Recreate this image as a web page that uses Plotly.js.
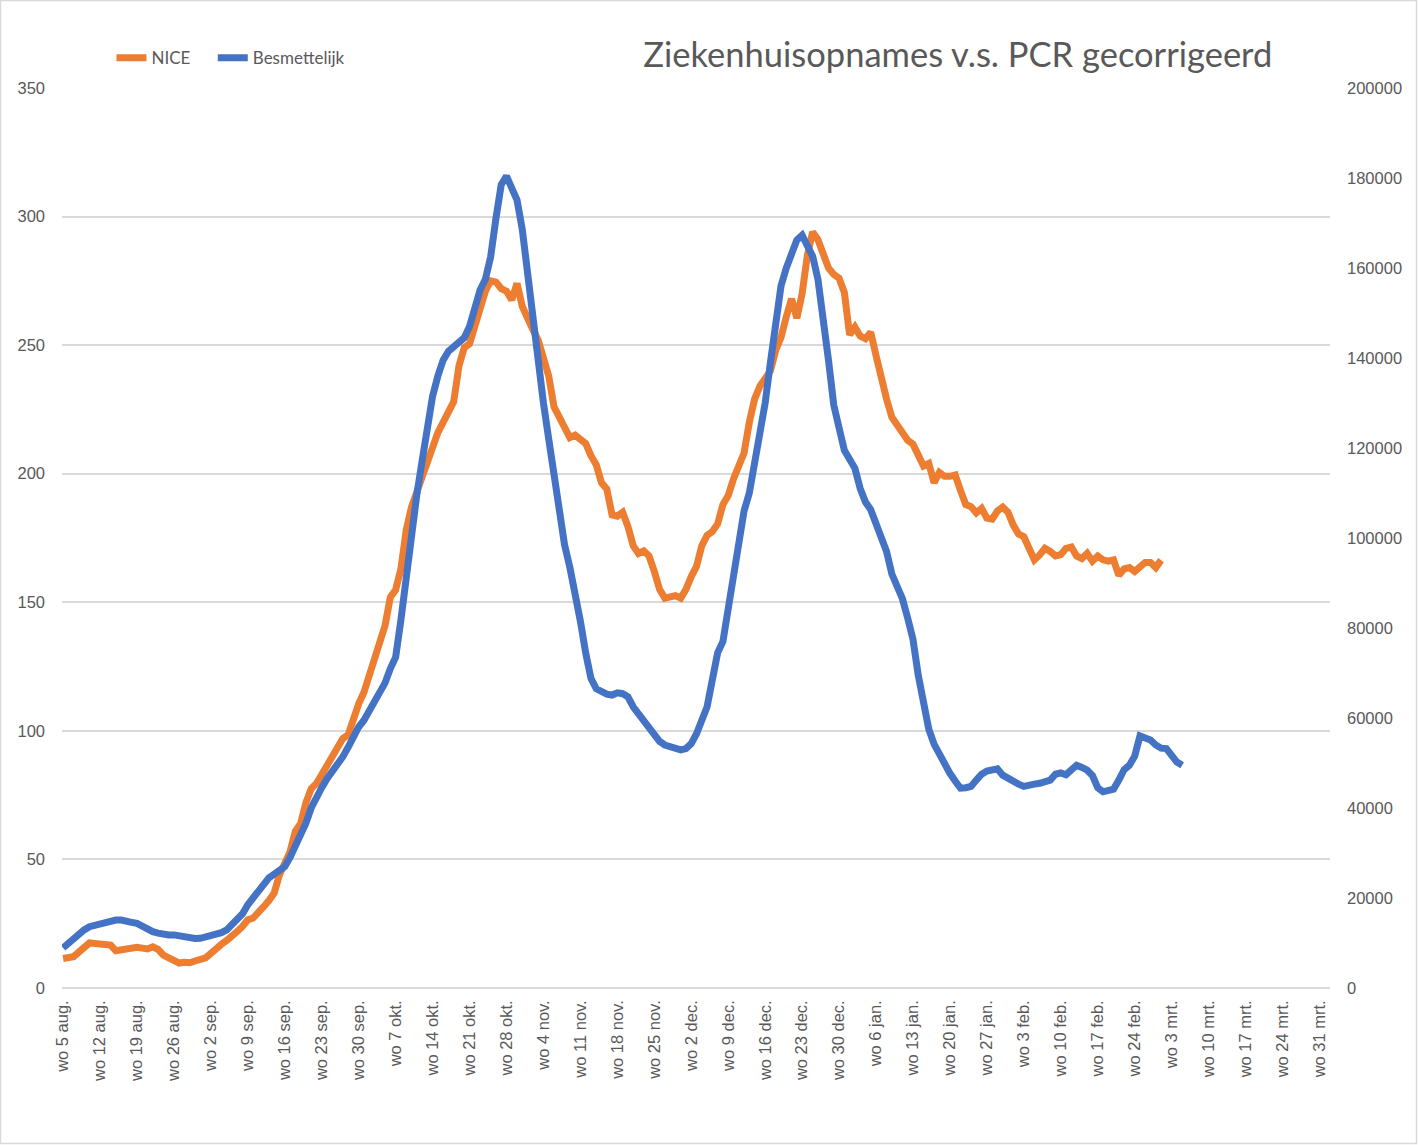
<!DOCTYPE html>
<html>
<head>
<meta charset="utf-8">
<script src="https://cdn.plot.ly/plotly-3.0.1.min.js"></script>
<style>
  html, body { margin: 0; padding: 0; background: #ffffff; }
  #chart { width: 1418px; height: 1145px; }
</style>
</head>
<body>
<div id="chart"></div>
<script>
// Daily values starting at wo 5 aug. (day 0)
const NICE = [
  11.5, 12, 12.2, 14, 16, 17.5, 17.3, 17, 17, 16.7,
  14.5, 15, 15.5, 16, 15.8, 15.5, 15.2, 16, 15, 12.8,
  11.5, 10.5, 9.7, 10, 9.8, 10.5, 11, 11.7, 13.5, 15.6,
  17, 18.5, 20, 22, 24, 26.5, 27.2, 29, 31.6, 34,
  37, 44, 48.5, 53, 61, 64, 72, 77.5, 79.5, 83,
  87, 90.5, 94, 97, 98.4, 105, 110.5, 115, 122, 129,
  134, 141, 152, 154.8, 163, 178, 187, 193, 198, 204,
  210, 216, 220, 223.5, 228, 242, 249, 250.5, 258, 265,
  271, 275, 274.5, 272, 271, 267.6, 274, 265, 260, 256,
  252, 246, 238, 226, 221.5, 218.5, 214, 215, 213.5, 211.8,
  207, 203.5, 196.5, 194, 184, 183.5, 185, 179.5, 172, 169,
  170, 168, 162, 155, 151.6, 152, 152.6, 151.6, 155, 160,
  164, 172, 176, 177.5, 180.5, 188, 191.5, 198, 203, 208,
  220, 229, 234, 236.5, 240, 248, 253, 261, 268, 260.5,
  270, 285, 294, 291, 286, 280, 277.5, 276, 270.5, 254,
  257, 253.5, 252.5, 255, 246, 236, 229, 222, 219, 215.5,
  213, 211.5, 206.5, 203, 204, 196.5, 200.5, 199, 199, 199.5,
  193.5, 188, 187.2, 184.8, 186.5, 182.7, 182.3, 185.5, 187, 185,
  180, 176.5, 175.5, 171, 166.5, 168.4, 171, 169.8, 168, 168.5,
  171, 171.5, 168, 167, 169, 166, 168, 166.5, 166, 166.5,
  160.5, 163, 163.5, 162, 163.8, 165.5, 165.5, 163.5, 166.4
];

const BESMETTELIJK = [
  8900, 10000, 11040, 12000, 12900, 13630, 14000, 14400, 14740, 14900,
  15100, 15100, 15000, 14600, 14370, 13600, 13000, 12520, 12200, 11800,
  11780, 11800, 11600, 11300, 11040, 11000, 11040, 11300, 11500, 11780,
  12300, 12890, 14000, 15000, 16500, 18500, 20000, 21200, 22500, 24500,
  25300, 26300, 27000, 29000, 31500, 33500, 36600, 40000, 42500, 44500,
  46500, 48000, 49700, 51400, 53500, 56000, 58000, 59500, 61500, 63700,
  65800, 67800, 71000, 73500, 81800, 91000, 102000, 109500, 117000, 124000,
  131500, 136000, 139500, 141500, 142500, 143300, 144500, 147000, 151500, 155100,
  157500, 162500, 171000, 178500, 180400, 178000, 175100, 168500, 158000, 148000,
  140500, 130000, 122000, 114000, 108000, 98500, 93500, 88000, 81500, 74500,
  68800, 66500, 65800, 65300, 65100, 65600, 65400, 64700, 62500, 61000,
  59800, 58200, 56500, 54800, 54000, 53700, 53400, 52900, 53200, 54300,
  56500, 59500, 62500, 68500, 74500, 77000, 84000, 92500, 100000, 106000,
  110000, 116500, 123500, 130000, 139000, 147500, 156000, 160000, 163500, 166200,
  167300, 165300, 162600, 157500, 149500, 139500, 129500, 123500, 119500, 117500,
  115500, 111000, 108000, 106300, 103500, 100500, 97000, 92000, 89500, 86500,
  82200, 77500, 69500, 63200, 57500, 54200, 51800, 49300, 47700, 46000,
  44400, 44500, 44800, 46200, 47500, 48200, 48500, 48700, 47300, 46500,
  45700, 45300, 44800, 44900, 45300, 45500, 46000, 46200, 47500, 47800,
  47400, 48500, 49500, 49000, 48400, 47200, 44500, 43600, 43800, 44200,
  46200, 48500, 49500, 51500, 56000, 55500, 55100, 54000, 53300, 53200,
  51800, 50200, 49500
];

// Weekly category labels (every Wednesday)
const TICK_LABELS = [
  'wo 5 aug.', 'wo 12 aug.', 'wo 19 aug.', 'wo 26 aug.', 'wo 2 sep.',
  'wo 9 sep.', 'wo 16 sep.', 'wo 23 sep.', 'wo 30 sep.', 'wo 7 okt.',
  'wo 14 okt.', 'wo 21 okt.', 'wo 28 okt.', 'wo 4 nov.', 'wo 11 nov.',
  'wo 18 nov.', 'wo 25 nov.', 'wo 2 dec.', 'wo 9 dec.', 'wo 16 dec.',
  'wo 23 dec.', 'wo 30 dec.', 'wo 6 jan.', 'wo 13 jan.', 'wo 20 jan.',
  'wo 27 jan.', 'wo 3 feb.', 'wo 10 feb.', 'wo 17 feb.', 'wo 24 feb.',
  'wo 3 mrt.', 'wo 10 mrt.', 'wo 17 mrt.', 'wo 24 mrt.', 'wo 31 mrt.'
];

const ORANGE = '#ED7D31';
const BLUE = '#4472C4';
const GRID = '#D9D9D9';
const TEXT = '#595959';
const TICK_FONT = {family: 'Liberation Sans, Arial, sans-serif', size: 16.5, color: TEXT};

const days = arr => arr.map((_, i) => i);

const traceNice = {
  x: days(NICE),
  y: NICE,
  // trailing non-breaking spaces widen the gap to the next legend entry
  name: 'NICE' + '\u00a0'.repeat(4),
  type: 'scatter',
  mode: 'lines',
  line: {color: ORANGE, width: 7, shape: 'linear'},
  yaxis: 'y'
};

const traceBesm = {
  x: days(BESMETTELIJK),
  y: BESMETTELIJK,
  name: 'Besmettelijk',
  type: 'scatter',
  mode: 'lines',
  line: {color: BLUE, width: 7, shape: 'linear'},
  yaxis: 'y2'
};

const layout = {
  width: 1418,
  height: 1145,
  margin: {l: 62, r: 88, t: 88, b: 157},
  paper_bgcolor: '#ffffff',
  plot_bgcolor: '#ffffff',
  font: {family: 'Lato, sans-serif', color: TEXT},
  title: {
    text: 'Ziekenhuisopnames v.s. PCR gecorrigeerd',
    xref: 'container', yref: 'container',
    x: 0.6755, xanchor: 'center',
    y: 0.952, yanchor: 'middle',
    font: {family: 'Lato, sans-serif', size: 34.5, color: TEXT}
  },
  showlegend: true,
  legend: {
    orientation: 'h',
    x: 0.039, xanchor: 'left',
    y: 1.033, yanchor: 'middle',
    font: {family: 'Lato, sans-serif', size: 17, color: TEXT},
    bgcolor: 'rgba(0,0,0,0)',
    itemwidth: 30,
    tracegroupgap: 0
  },
  xaxis: {
    range: [-0.2, 240],
    tickmode: 'array',
    tickvals: TICK_LABELS.map((_, i) => i * 7),
    ticktext: TICK_LABELS,
    tickangle: -90,
    tickfont: TICK_FONT,
    ticks: '',
    ticklabelstandoff: 8,
    showgrid: false,
    zeroline: false,
    showline: false,
    fixedrange: true
  },
  yaxis: {
    range: [0, 350],
    dtick: 50,
    tick0: 0,
    tickfont: TICK_FONT,
    showgrid: true,
    gridcolor: GRID,
    gridwidth: 2,
    zeroline: true,
    zerolinecolor: GRID,
    zerolinewidth: 2,
    showline: false,
    ticks: '',
    ticklabelstandoff: 16
  },
  yaxis2: {
    range: [0, 200000],
    dtick: 20000,
    tick0: 0,
    tickformat: 'd',
    overlaying: 'y',
    side: 'right',
    tickfont: TICK_FONT,
    showgrid: false,
    zeroline: false,
    showline: false,
    ticks: '',
    ticklabelstandoff: 16
  },
  shapes: [{
    type: 'rect',
    xref: 'paper', yref: 'paper',
    x0: -61.5 / 1268, x1: 1354.5 / 1268,
    y0: -155.5 / 900, y1: 987.5 / 900,
    line: {color: GRID, width: 1.5},
    fillcolor: 'rgba(0,0,0,0)',
    layer: 'below'
  }]
};

Plotly.newPlot('chart', [traceNice, traceBesm], layout, {displayModeBar: false, staticPlot: true});
</script>
</body>
</html>
